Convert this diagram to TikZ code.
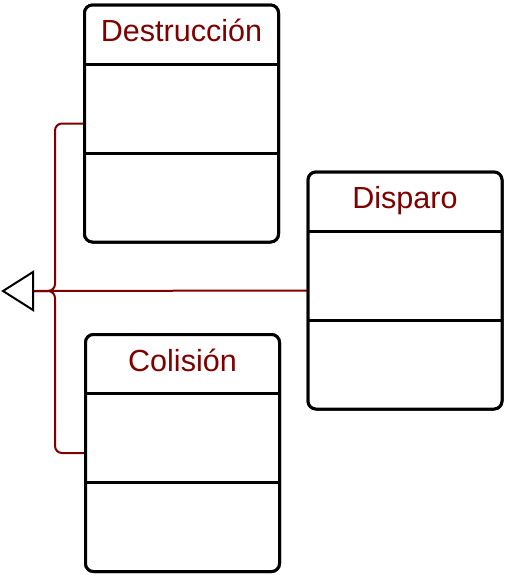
\documentclass[tikz,border=0pt]{standalone}
\usepackage{fontspec}
\setmainfont{Liberation Sans}
\definecolor{dred}{HTML}{800000}
\begin{document}
\begin{tikzpicture}[x=0.75pt,y=-0.75pt,
  cls/.style={draw=black, line width=2.25pt, rounded corners=6pt, fill=white,
    minimum width=145.5pt, minimum height=177.75pt, inner sep=0pt, outer sep=0pt},
  ttl/.style={text=dred, font=\fontsize{22.9}{27}\selectfont, inner sep=0pt, anchor=base},
  divline/.style={draw=black, line width=2.25pt},
  conn/.style={draw=dred, line width=1.5pt, rounded corners=5.25pt},
  inh/.style={draw=black, line width=1.5pt, fill=white, line join=miter}]
\useasboundingbox (0,0) rectangle (505,575);
% class boxes
\node[cls] (d) at (181.5,123.5) {};
\node[cls] (p) at (405,290.5) {};
\node[cls] (c) at (182.5,453) {};
% connectors
\coordinate (ab) at (33,291);
\draw[conn] (d.west) -- (55,123.5) -- (55,291) -- (ab);
\draw[conn] (c.west) -- (55,453) -- (55,291) -- (ab);
\draw[conn] (p.west) -- (ab);
% redraw boxes on top
\foreach \n in {d,p,c}{
  \node[cls] at (\n) {};
  \draw[divline] ([yshift=-44.25pt]\n.north west) -- ([yshift=-44.25pt]\n.north east);
  \draw[divline] ([yshift=-111pt]\n.north west) -- ([yshift=-111pt]\n.north east);
}
% titles
\node[ttl] (dt) at ([yshift=-27.5pt]d.north) {Destrucción};
\node[ttl] (pt) at ([yshift=-27.5pt]p.north) {Disparo};
\node[ttl] (ct) at ([yshift=-27.5pt]c.north) {Colisión};
% inheritance arrowhead
\draw[inh] (33,272) -- (3,291) -- (33,310) -- cycle;
\end{tikzpicture}
\end{document}
